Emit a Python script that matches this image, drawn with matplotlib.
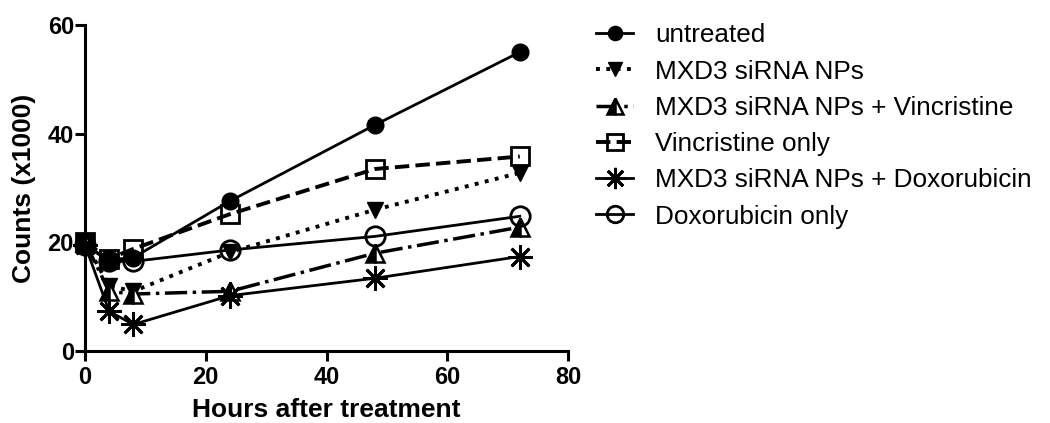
### Cell counts after treatment, GraphPad-style line plot
import numpy as np
import matplotlib.pyplot as plt

plt.rcParams['font.family'] = ['Liberation Sans', 'DejaVu Sans']

# hours after treatment
hours = [0, 4, 8, 24, 48, 72]

# counts (x1000)
untreated = [19.5, 16.8, 17.2, 27.6, 41.6, 55.0]
mxd3 = [20.0, 12.0, 11.0, 18.2, 26.0, 32.8]
mxd3_vinc = [20.0, 11.0, 10.5, 11.0, 18.0, 22.8]
vinc_only = [20.0, 17.0, 18.8, 25.2, 33.5, 35.8]
mxd3_dox = [19.5, 7.3, 4.9, 10.2, 13.4, 17.4]
dox_only = [19.5, 16.5, 16.5, 18.6, 21.1, 24.8]

labels = ['untreated', 'MXD3 siRNA NPs', 'MXD3 siRNA NPs + Vincristine',
          'Vincristine only', 'MXD3 siRNA NPs + Doxorubicin', 'Doxorubicin only']

fig = plt.figure(figsize=(10.5, 4.23), dpi=100)
ax = fig.add_axes([0.081, 0.170, 0.460, 0.771])

lw = 2.0
ms = 12
# untreated
ax.plot(hours, untreated, '-', color='k', lw=lw, marker='o', ms=ms,
        mfc='k', mec='k', clip_on=False, label=labels[0])
# MXD3 siRNA NPs
ax.plot(hours, mxd3, ':', color='k', lw=lw + 0.8, marker='v', ms=ms,
        mfc='k', mec='k', clip_on=False, label=labels[1])
# MXD3 + vincristine
ax.plot(hours, mxd3_vinc, '-.', color='k', lw=lw + 0.5, marker='^', ms=ms + 1,
        fillstyle='left', mfc='k', mfcalt='white', mec='k', mew=1.8,
        clip_on=False, label=labels[2])
# vincristine only
ax.plot(hours, vinc_only, '--', color='k', lw=lw + 0.8, marker='s', ms=ms + 1,
        mfc='none', mec='k', mew=2.0, clip_on=False, label=labels[3])
# MXD3 + doxorubicin
ax.plot(hours, mxd3_dox, '-', color='k', lw=lw, marker=(8, 2, 0), ms=ms + 6,
        mec='k', mew=2.0, clip_on=False, label=labels[4])
# doxorubicin only
ax.plot(hours, dox_only, '-', color='k', lw=lw, marker='o', ms=ms + 2,
        mfc='none', mec='k', mew=2.0, clip_on=False, label=labels[5])

ax.set_xlim(0, 80)
ax.set_ylim(0, 60)
ax.set_xticks([0, 20, 40, 60, 80])
ax.set_yticks([0, 20, 40, 60])
ax.spines['top'].set_visible(False)
ax.spines['right'].set_visible(False)
for s in ['left', 'bottom']:
    ax.spines[s].set_linewidth(2.2)
ax.tick_params(direction='out', length=7, width=2.2, labelsize=17, pad=1)
ax.tick_params(axis='x', pad=4)
for t in ax.get_xticklabels() + ax.get_yticklabels():
    t.set_fontweight('bold')

ax.set_xlabel('Hours after treatment', fontsize=19, fontweight='bold', labelpad=6)
ax.set_ylabel('Counts (x1000)', fontsize=19, fontweight='bold', labelpad=8)

ax.legend(loc='upper left', bbox_to_anchor=(0.568, 0.945), bbox_transform=fig.transFigure,
          frameon=False, fontsize=18.8, handlelength=1.4, handletextpad=0.85,
          labelspacing=0.47, borderaxespad=0, borderpad=0, markerscale=0.85)

plt.savefig('out.png', dpi=100)
